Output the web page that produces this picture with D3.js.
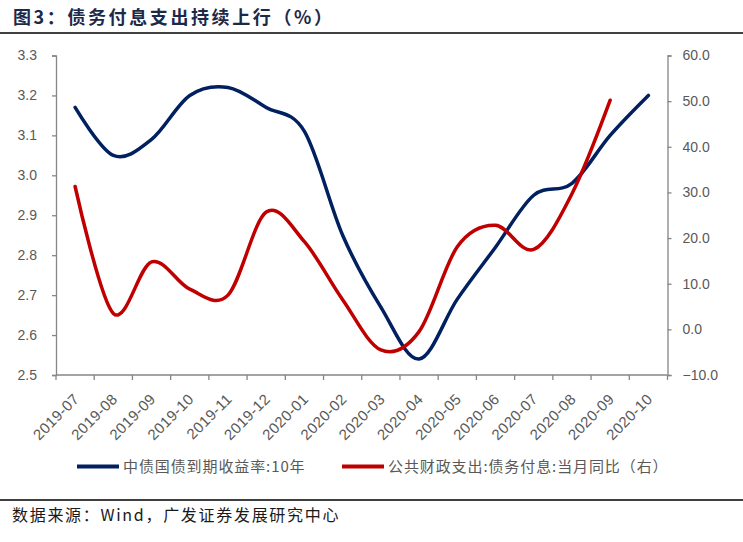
<!DOCTYPE html>
<html><head><meta charset="utf-8">
<script src="https://cdn.jsdelivr.net/npm/d3@7"></script>
<style>
body{margin:0;background:#fff;}
svg{display:block;font-family:"Liberation Sans",Arial,sans-serif;}
</style></head>
<body>
<svg id="c" width="743" height="542"></svg>
<script>
const categories = ["2019-07","2019-08","2019-09","2019-10","2019-11","2019-12","2020-01","2020-02","2020-03","2020-04","2020-05","2020-06","2020-07","2020-08","2020-09","2020-10"];
const yieldValues = [3.17,3.05,3.09,3.20,3.22,3.17,3.11,2.85,2.67,2.54,2.69,2.82,2.95,2.98,3.10,3.20];
const interestValues = [31.3,3.5,14.8,8.8,7.5,25.7,19.2,6.5,-4.5,-0.5,18.1,22.8,17.5,29.7,50.2];
const leftTicks = [2.5,2.6,2.7,2.8,2.9,3.0,3.1,3.2,3.3];
const rightTicks = [-10,0,10,20,30,40,50,60];
const seriesNames = ["中债国债到期收益率:10年","公共财政支出:债务付息:当月同比（右）"];
const title = "图3：债务付息支出持续上行（%）";
const source = "数据来源：Wind，广发证券发展研究中心";

const svg = d3.select("#c");
const L = 56, R = 667.5, T = 55.5, B = 375;
const gray = "#868686", txt = "#595959";

const x = d3.scaleBand().domain(categories).range([L, R]).padding(0);
const yL = d3.scaleLinear().domain([2.5, 3.3]).range([B, T]);
const yR = d3.scaleLinear().domain([-10, 60]).range([B, T]);

// title
svg.append("text").attr("x", 13).attr("y", 24).attr("font-family", "'Noto Sans CJK SC'")
  .attr("font-weight", "bold").attr("font-size", 18).attr("letter-spacing", 2.6)
  .attr("fill", "#1c2948").text(title);
svg.append("line").attr("x1", 0).attr("x2", 743).attr("y1", 33).attr("y2", 33).attr("stroke", "#000").attr("stroke-width", 1.5);

// left axis
const gl = svg.append("g").attr("transform", `translate(${L},0)`)
  .call(d3.axisLeft(yL).tickValues(leftTicks).tickSize(4).tickPadding(15).tickFormat(d3.format(".1f")));
gl.select(".domain").attr("stroke", gray).attr("stroke-width", 1.3);
gl.selectAll(".tick line").attr("stroke", gray).attr("stroke-width", 1.3);
gl.selectAll(".tick text").attr("fill", txt).attr("font-size", 14).attr("font-family", "'Liberation Sans',Arial");

// right axis
const gr = svg.append("g").attr("transform", `translate(${R},0)`)
  .call(d3.axisRight(yR).tickValues(rightTicks).tickSize(4).tickPadding(11).tickFormat(d3.format(".1f")));
gr.select(".domain").attr("stroke", gray).attr("stroke-width", 1.3);
gr.selectAll(".tick line").attr("stroke", gray).attr("stroke-width", 1.3);
gr.selectAll(".tick text").attr("fill", txt).attr("font-size", 14).attr("font-family", "'Liberation Sans',Arial");

// bottom axis
svg.append("line").attr("x1", L).attr("x2", R).attr("y1", B).attr("y2", B).attr("stroke", gray).attr("stroke-width", 1.3);
const bounds = categories.map(c => x(c)).concat([x(categories[categories.length-1]) + x.bandwidth()]);
svg.append("g").selectAll("line").data(bounds).join("line")
  .attr("x1", d => d).attr("x2", d => d).attr("y1", B).attr("y2", B + 5)
  .attr("stroke", gray).attr("stroke-width", 1.3);
svg.append("g").selectAll("text").data(categories).join("text")
  .attr("transform", d => `translate(${x(d) + x.bandwidth()/2 + 5},${B + 25}) rotate(-45)`)
  .attr("text-anchor", "end").attr("font-size", 15).attr("letter-spacing", 0.4).attr("fill", txt).text(d => d);

// lines
const cx = d => x(d) + x.bandwidth()/2;
const lineL = d3.line().x((d,i) => cx(categories[i])).y(d => yL(d)).curve(d3.curveCatmullRom.alpha(0));
const lineR = d3.line().x((d,i) => cx(categories[i])).y(d => yR(d)).curve(d3.curveCatmullRom.alpha(0));
svg.append("path").attr("d", lineL(yieldValues)).attr("fill", "none").attr("stroke", "#002060").attr("stroke-width", 3.5).attr("stroke-linecap", "round");
svg.append("path").attr("d", lineR(interestValues)).attr("fill", "none").attr("stroke", "#c00000").attr("stroke-width", 3.5).attr("stroke-linecap", "round");

// legend
const leg = [{c:"#002060", x:77, name:seriesNames[0]}, {c:"#c00000", x:342, name:seriesNames[1]}];
const lg = svg.append("g");
leg.forEach(o => {
  lg.append("line").attr("x1", o.x).attr("x2", o.x + 42).attr("y1", 466.5).attr("y2", 466.5).attr("stroke", o.c).attr("stroke-width", 4);
  lg.append("text").attr("x", o.x + 46).attr("y", 472).attr("font-family", "'Noto Sans CJK SC'")
    .attr("font-size", 15).attr("letter-spacing", 0.9).attr("fill", txt).text(o.name);
});

// source
svg.append("line").attr("x1", 0).attr("x2", 743).attr("y1", 500).attr("y2", 500).attr("stroke", "#000").attr("stroke-width", 1.5);
svg.append("text").attr("x", 12).attr("y", 521).attr("font-family", "'Noto Sans CJK SC'")
  .attr("font-size", 16).attr("letter-spacing", 1.7).attr("fill", "#1a1a1a").text(source);
</script>
</body></html>
